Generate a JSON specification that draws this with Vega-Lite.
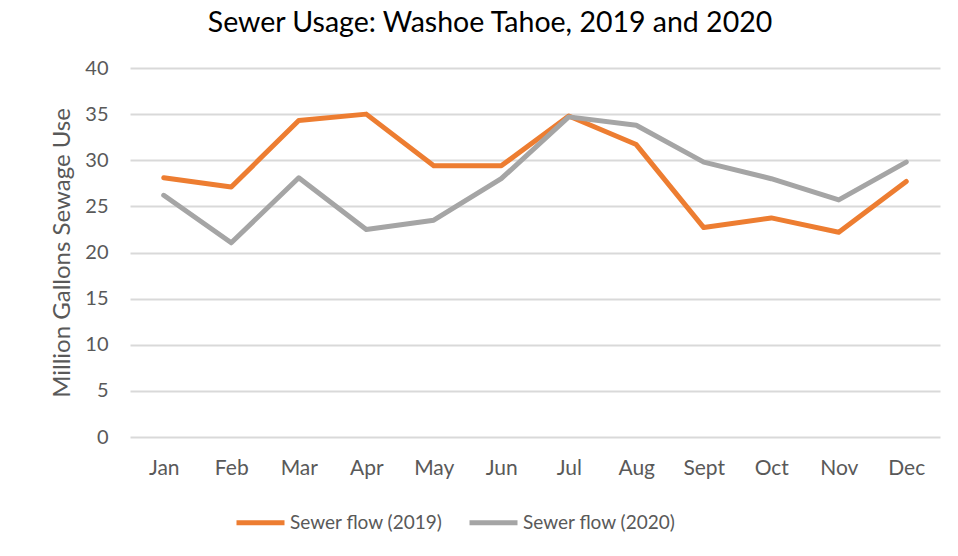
{
  "$schema": "https://vega.github.io/schema/vega-lite/v6.json",
  "autosize": "none",
  "width": 810,
  "height": 369,
  "padding": {"left": 130, "top": 68, "right": 18, "bottom": 119},
  "background": "white",
  "config": {
    "font": "Lato",
    "view": {"stroke": null}
  },
  "title": {
    "text": "Sewer Usage: Washoe Tahoe, 2019 and 2020",
    "fontSize": 28.5,
    "fontWeight": "normal",
    "color": "#000000",
    "anchor": "middle",
    "dx": -45,
    "offset": 21
  },
  "data": {
    "values": [
      {"month": "Jan", "series": "Sewer flow (2019)", "value": 28.1},
      {"month": "Feb", "series": "Sewer flow (2019)", "value": 27.1},
      {"month": "Mar", "series": "Sewer flow (2019)", "value": 34.3},
      {"month": "Apr", "series": "Sewer flow (2019)", "value": 35.0},
      {"month": "May", "series": "Sewer flow (2019)", "value": 29.4},
      {"month": "Jun", "series": "Sewer flow (2019)", "value": 29.4},
      {"month": "Jul", "series": "Sewer flow (2019)", "value": 34.8},
      {"month": "Aug", "series": "Sewer flow (2019)", "value": 31.7},
      {"month": "Sept", "series": "Sewer flow (2019)", "value": 22.7},
      {"month": "Oct", "series": "Sewer flow (2019)", "value": 23.75},
      {"month": "Nov", "series": "Sewer flow (2019)", "value": 22.2},
      {"month": "Dec", "series": "Sewer flow (2019)", "value": 27.7},
      {"month": "Jan", "series": "Sewer flow (2020)", "value": 26.2},
      {"month": "Feb", "series": "Sewer flow (2020)", "value": 21.05},
      {"month": "Mar", "series": "Sewer flow (2020)", "value": 28.1},
      {"month": "Apr", "series": "Sewer flow (2020)", "value": 22.5},
      {"month": "May", "series": "Sewer flow (2020)", "value": 23.5},
      {"month": "Jun", "series": "Sewer flow (2020)", "value": 28.0},
      {"month": "Jul", "series": "Sewer flow (2020)", "value": 34.7},
      {"month": "Aug", "series": "Sewer flow (2020)", "value": 33.8},
      {"month": "Sept", "series": "Sewer flow (2020)", "value": 29.8},
      {"month": "Oct", "series": "Sewer flow (2020)", "value": 28.0},
      {"month": "Nov", "series": "Sewer flow (2020)", "value": 25.7},
      {"month": "Dec", "series": "Sewer flow (2020)", "value": 29.8}
    ]
  },
  "mark": {"type": "line", "strokeWidth": 5, "strokeCap": "round", "strokeJoin": "round"},
  "encoding": {
    "x": {
      "field": "month",
      "type": "ordinal",
      "sort": ["Jan","Feb","Mar","Apr","May","Jun","Jul","Aug","Sept","Oct","Nov","Dec"],
      "scale": {"type": "point", "padding": 0.5},
      "axis": {
        "title": null,
        "labelAngle": 0,
        "labelFontSize": 21,
        "labelColor": "#595959",
        "labelPadding": 20,
        "ticks": false,
        "domain": false,
        "grid": false
      }
    },
    "y": {
      "field": "value",
      "type": "quantitative",
      "scale": {"domain": [0, 40], "nice": false},
      "axis": {
        "title": "Million Gallons Sewage Use",
        "titleFontSize": 24,
        "titleFontWeight": "normal",
        "titleColor": "#595959",
        "titlePadding": 10,
        "values": [0, 5, 10, 15, 20, 25, 30, 35, 40],
        "labelFontSize": 20,
        "labelColor": "#595959",
        "labelPadding": 22,
        "ticks": false,
        "domain": false,
        "grid": true,
        "gridColor": "#D9D9D9",
        "gridWidth": 2
      }
    },
    "color": {
      "field": "series",
      "type": "nominal",
      "scale": {"domain": ["Sewer flow (2019)", "Sewer flow (2020)"], "range": ["#ED7D31", "#A5A5A5"]},
      "legend": {
        "title": null,
        "orient": "none",
        "legendX": 104,
        "legendY": 428,
        "direction": "horizontal",
        "symbolType": "stroke",
        "symbolSize": 2304,
        "symbolStrokeWidth": 5,
        "labelFontSize": 19,
        "labelColor": "#595959",
        "labelOffset": 3,
        "columnPadding": 16
      }
    }
  }
}
